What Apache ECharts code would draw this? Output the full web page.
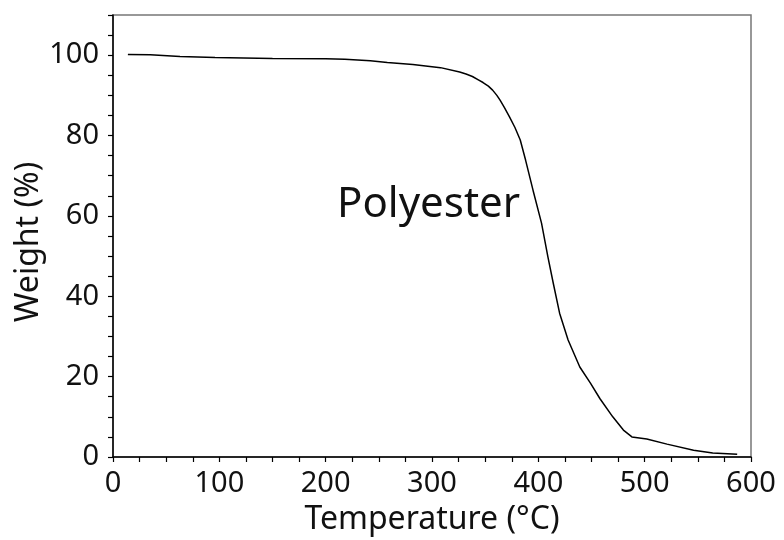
<!DOCTYPE html>
<html>
<head>
<meta charset="utf-8">
<script src="https://cdn.jsdelivr.net/npm/echarts@6/dist/echarts.min.js"></script>
<style>html,body{margin:0;padding:0;background:#fff}#c{width:784px;height:540px}</style>
</head>
<body>
<div id="c"></div>
<script>
var temperature = [14,35,36,63,64,96,97,150,200,218,242,258,282,308,326,332,338,344,348,353,357,361,364,368,373,378,383,388,395,403,409,414,420,428,439,449,458,470,480,488,502,521,546,564,587];
var weight = [100.2,100.1,99.8,99.7,99.5,99.4,99.2,99.2,99.1,99.0,98.6,98.2,97.7,96.9,95.8,95.3,94.7,93.8,93.2,92.3,91.3,90.0,88.8,87.0,84.6,82.0,78.9,73.9,66.4,58.2,49.8,43.3,35.8,29.1,22.4,18.4,14.5,10.0,6.7,5.0,4.5,3.2,1.7,1.0,0.7];
var xTicks = [0,100,200,300,400,500,600];
var yTicks = [0,20,40,60,80,100];
var annotation = 'Polyester';

var pts = temperature.map(function(t,i){return [t, weight[i]];});
var FONT = 'Noto Sans';
var chart = echarts.init(document.getElementById('c'));
chart.setOption({
  animation: false,
  backgroundColor: '#fff',
  grid: {left: 113, right: 33, top: 15, bottom: 83, show: true, borderColor: '#777', borderWidth: 1.5, outerBoundsMode: 'none'},
  xAxis: {
    type: 'value', min: 0, max: 600, interval: 100,
    name: 'Temperature (°C)', nameLocation: 'middle', nameGap: 47,
    nameTextStyle: {fontFamily: FONT, fontSize: 32, color: '#111'},
    axisLine: {lineStyle: {color: '#000', width: 1.5}},
    axisTick: {show: true, inside: false, length: 5, lineStyle: {color: '#000', width: 1.2}},
    minorTick: {show: true, splitNumber: 4, length: 5, lineStyle: {color: '#000', width: 1.2}},
    splitLine: {show: false},
    axisLabel: {fontFamily: FONT, fontSize: 29, color: '#111', margin: 12,
      formatter: function(v){return xTicks.indexOf(v) >= 0 ? String(v) : '';}}
  },
  yAxis: {
    type: 'value', min: 0, max: 110, interval: 20,
    name: 'Weight (%)', nameLocation: 'middle', nameGap: 68, nameMoveOverlap: false,
    nameTextStyle: {fontFamily: FONT, fontSize: 32, color: '#111', padding: [0, 12, 0, 0]},
    axisLine: {show: true, lineStyle: {color: '#000', width: 1.5}},
    axisTick: {show: true, inside: false, length: 5, lineStyle: {color: '#000', width: 1.2}},
    minorTick: {show: true, splitNumber: 4, length: 5, lineStyle: {color: '#000', width: 1.2}},
    splitLine: {show: false},
    axisLabel: {fontFamily: FONT, fontSize: 29, color: '#111', margin: 14,
      formatter: function(v){return yTicks.indexOf(v) >= 0 ? String(v) : '';}}
  },
  graphic: [{
    type: 'text', left: 337, top: 184,
    style: {text: annotation, fontFamily: FONT, fontSize: 42, fill: '#111'}
  }],
  series: [{
    type: 'line', data: pts, showSymbol: false, symbol: 'none',
    lineStyle: {color: '#000', width: 1.5}
  }]
});
</script>
</body>
</html>
